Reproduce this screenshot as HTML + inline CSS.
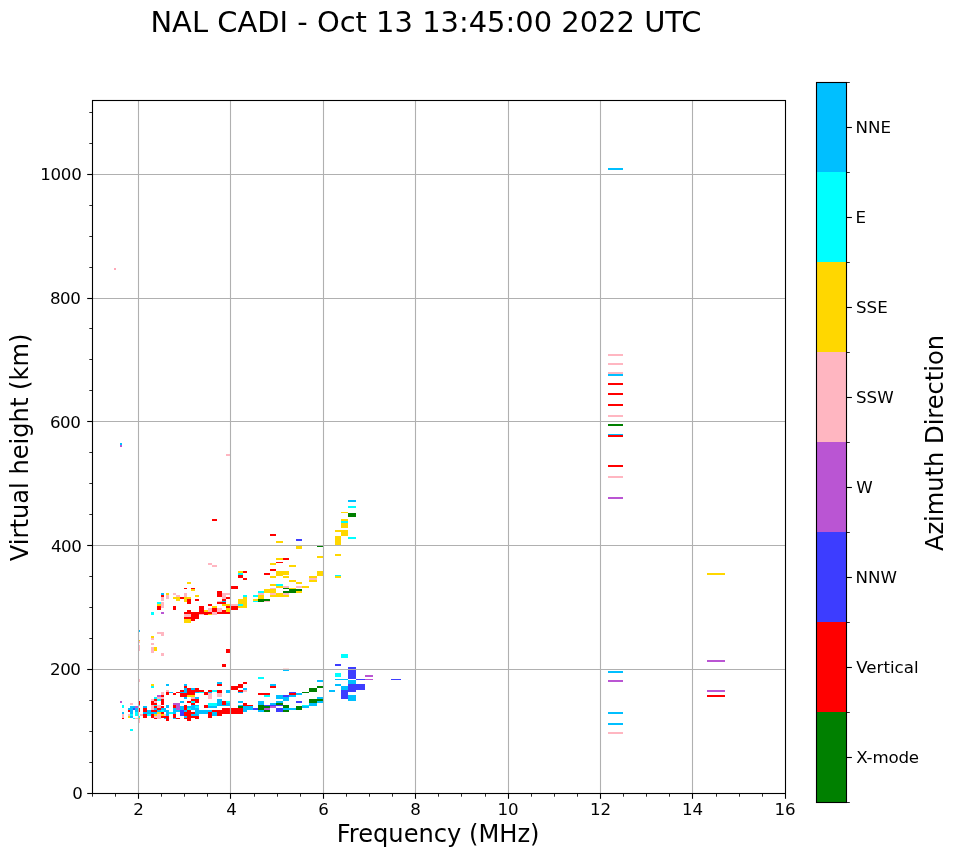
<!DOCTYPE html>
<html lang="en"><head><meta charset="utf-8"><title>NAL CADI ionogram</title>
<style>html,body{margin:0;padding:0;background:#fff}body{width:958px;height:857px;overflow:hidden}svg{display:block}text{font-family:"DejaVu Sans","Liberation Sans",sans-serif;fill:#000}.tk{font-size:16.67px}.lb{font-size:24.15px}.tt{font-size:28.95px}</style></head><body>
<svg width="958" height="857" viewBox="0 0 958 857">
<rect width="958" height="857" fill="#fff"/>
<g id="cells" shape-rendering="crispEdges">
<rect x="138" y="680" width="2" height="2" fill="#ffb6c1"/>
<rect x="151" y="684" width="3" height="2" fill="#ffd700"/>
<rect x="151" y="686" width="3" height="2" fill="#00ffff"/>
<rect x="166" y="684" width="3" height="2" fill="#00bfff"/>
<rect x="166" y="690" width="3" height="2" fill="#ffb6c1"/>
<rect x="166" y="692" width="3" height="3" fill="#ff0000"/>
<rect x="161" y="692" width="3" height="3" fill="#ffb6c1"/>
<rect x="169" y="692" width="4" height="1" fill="#00bfff"/>
<rect x="173" y="693" width="3" height="2" fill="#ff0000"/>
<rect x="176" y="692" width="2" height="1" fill="#ff0000"/>
<rect x="157" y="695" width="4" height="2" fill="#ba55d3"/>
<rect x="161" y="695" width="3" height="2" fill="#ff0000"/>
<rect x="154" y="697" width="3" height="2" fill="#00ffff"/>
<rect x="157" y="697" width="7" height="2" fill="#ffb6c1"/>
<rect x="151" y="699" width="3" height="2" fill="#ffb6c1"/>
<rect x="154" y="699" width="3" height="2" fill="#ff0000"/>
<rect x="157" y="699" width="4" height="2" fill="#00ffff"/>
<rect x="161" y="699" width="3" height="6" fill="#ff0000"/>
<rect x="120" y="701" width="2" height="2" fill="#ba55d3"/>
<rect x="138" y="701" width="2" height="4" fill="#ff0000"/>
<rect x="151" y="701" width="3" height="4" fill="#ff0000"/>
<rect x="154" y="701" width="3" height="2" fill="#ffb6c1"/>
<rect x="154" y="703" width="3" height="2" fill="#ff0000"/>
<rect x="130" y="703" width="3" height="2" fill="#ffb6c1"/>
<rect x="122" y="705" width="2" height="3" fill="#00ffff"/>
<rect x="138" y="705" width="2" height="1" fill="#00ffff"/>
<rect x="154" y="705" width="3" height="1" fill="#00ffff"/>
<rect x="157" y="705" width="4" height="3" fill="#ffb6c1"/>
<rect x="130" y="706" width="5" height="2" fill="#00bfff"/>
<rect x="135" y="706" width="3" height="2" fill="#ba55d3"/>
<rect x="143" y="706" width="4" height="2" fill="#00bfff"/>
<rect x="151" y="705" width="3" height="5" fill="#ffb6c1"/>
<rect x="154" y="706" width="3" height="2" fill="#ff0000"/>
<rect x="161" y="706" width="3" height="2" fill="#ff0000"/>
<rect x="166" y="705" width="3" height="3" fill="#00bfff"/>
<rect x="173" y="703" width="5" height="2" fill="#ba55d3"/>
<rect x="173" y="705" width="3" height="3" fill="#ff0000"/>
<rect x="176" y="705" width="2" height="5" fill="#ba55d3"/>
<rect x="128" y="708" width="5" height="2" fill="#00bfff"/>
<rect x="133" y="708" width="2" height="2" fill="#3d3dff"/>
<rect x="135" y="708" width="3" height="4" fill="#00bfff"/>
<rect x="138" y="708" width="2" height="4" fill="#ff0000"/>
<rect x="143" y="708" width="4" height="4" fill="#ff0000"/>
<rect x="154" y="708" width="3" height="2" fill="#00bfff"/>
<rect x="157" y="708" width="4" height="2" fill="#ff0000"/>
<rect x="161" y="708" width="5" height="2" fill="#00bfff"/>
<rect x="164" y="710" width="5" height="2" fill="#00bfff"/>
<rect x="173" y="708" width="3" height="2" fill="#00bfff"/>
<rect x="128" y="710" width="2" height="2" fill="#ff0000"/>
<rect x="130" y="710" width="3" height="2" fill="#00bfff"/>
<rect x="147" y="710" width="4" height="4" fill="#00bfff"/>
<rect x="151" y="710" width="6" height="2" fill="#ff0000"/>
<rect x="157" y="710" width="4" height="2" fill="#00bfff"/>
<rect x="161" y="710" width="3" height="2" fill="#00ffff"/>
<rect x="173" y="710" width="5" height="2" fill="#00bfff"/>
<rect x="122" y="712" width="2" height="2" fill="#00bfff"/>
<rect x="130" y="712" width="3" height="2" fill="#00bfff"/>
<rect x="135" y="712" width="3" height="4" fill="#00ffff"/>
<rect x="143" y="712" width="14" height="2" fill="#00bfff"/>
<rect x="157" y="712" width="4" height="2" fill="#ffd700"/>
<rect x="161" y="712" width="3" height="2" fill="#ff0000"/>
<rect x="166" y="712" width="3" height="4" fill="#00bfff"/>
<rect x="169" y="712" width="4" height="2" fill="#00ffff"/>
<rect x="173" y="712" width="3" height="2" fill="#00bfff"/>
<rect x="122" y="714" width="2" height="4" fill="#ffb6c1"/>
<rect x="128" y="714" width="2" height="2" fill="#ffb6c1"/>
<rect x="130" y="714" width="3" height="2" fill="#00ffff"/>
<rect x="140" y="714" width="3" height="2" fill="#ffb6c1"/>
<rect x="143" y="714" width="4" height="4" fill="#ff0000"/>
<rect x="147" y="714" width="4" height="2" fill="#00ffff"/>
<rect x="151" y="714" width="3" height="4" fill="#ff0000"/>
<rect x="154" y="714" width="3" height="2" fill="#ffd700"/>
<rect x="157" y="714" width="4" height="5" fill="#ffb6c1"/>
<rect x="161" y="714" width="3" height="2" fill="#ffd700"/>
<rect x="164" y="714" width="2" height="2" fill="#ffb6c1"/>
<rect x="173" y="714" width="3" height="4" fill="#ff0000"/>
<rect x="128" y="716" width="2" height="2" fill="#ffd700"/>
<rect x="130" y="716" width="3" height="2" fill="#00bfff"/>
<rect x="138" y="716" width="2" height="2" fill="#00ffff"/>
<rect x="154" y="716" width="3" height="2" fill="#ffb6c1"/>
<rect x="161" y="716" width="5" height="2" fill="#ff0000"/>
<rect x="166" y="716" width="3" height="5" fill="#ff0000"/>
<rect x="122" y="718" width="2" height="1" fill="#ff0000"/>
<rect x="133" y="718" width="2" height="1" fill="#00ffff"/>
<rect x="135" y="718" width="3" height="1" fill="#ffb6c1"/>
<rect x="138" y="718" width="2" height="1" fill="#ffd700"/>
<rect x="154" y="718" width="3" height="1" fill="#ff0000"/>
<rect x="164" y="718" width="2" height="1" fill="#00bfff"/>
<rect x="173" y="718" width="3" height="1" fill="#00bfff"/>
<rect x="176" y="718" width="2" height="1" fill="#ff0000"/>
<rect x="138" y="719" width="2" height="4" fill="#ffb6c1"/>
<rect x="348" y="500" width="8" height="2" fill="#00bfff"/>
<rect x="348" y="506" width="8" height="2" fill="#00ffff"/>
<rect x="341" y="512" width="7" height="1" fill="#ffd700"/>
<rect x="348" y="513" width="8" height="4" fill="#008000"/>
<rect x="341" y="519" width="7" height="2" fill="#ffd700"/>
<rect x="341" y="521" width="7" height="2" fill="#00ffff"/>
<rect x="341" y="523" width="7" height="5" fill="#ffd700"/>
<rect x="335" y="530" width="6" height="2" fill="#ffd700"/>
<rect x="341" y="530" width="7" height="6" fill="#ffd700"/>
<rect x="335" y="536" width="6" height="9" fill="#ffd700"/>
<rect x="348" y="537" width="8" height="2" fill="#00ffff"/>
<rect x="226" y="649" width="4" height="4" fill="#ff0000"/>
<rect x="222" y="664" width="4" height="3" fill="#ff0000"/>
<rect x="120" y="443" width="2" height="2" fill="#00bfff"/>
<rect x="120" y="445" width="2" height="2" fill="#ba55d3"/>
<rect x="226" y="454" width="4" height="2" fill="#ffb6c1"/>
<rect x="212" y="519" width="5" height="2" fill="#ff0000"/>
<rect x="114" y="268" width="2" height="2" fill="#ffa8b8"/>
<rect x="608" y="168" width="15" height="2" fill="#00bfff"/>
<rect x="608" y="354" width="15" height="2" fill="#ffb6c1"/>
<rect x="608" y="363" width="15" height="2" fill="#ffb6c1"/>
<rect x="608" y="372" width="15" height="2" fill="#ffb6c1"/>
<rect x="608" y="374" width="15" height="2" fill="#00bfff"/>
<rect x="608" y="383" width="15" height="2" fill="#ff0000"/>
<rect x="608" y="393" width="15" height="2" fill="#ff0000"/>
<rect x="608" y="404" width="15" height="2" fill="#ff0000"/>
<rect x="608" y="415" width="15" height="2" fill="#ffb6c1"/>
<rect x="608" y="424" width="15" height="2" fill="#008000"/>
<rect x="608" y="434" width="15" height="1" fill="#00bfff"/>
<rect x="608" y="435" width="15" height="2" fill="#ff0000"/>
<rect x="608" y="465" width="15" height="2" fill="#ff0000"/>
<rect x="608" y="476" width="15" height="2" fill="#ffb6c1"/>
<rect x="608" y="497" width="15" height="2" fill="#ba55d3"/>
<rect x="608" y="671" width="15" height="2" fill="#00bfff"/>
<rect x="608" y="680" width="15" height="2" fill="#ba55d3"/>
<rect x="608" y="712" width="15" height="2" fill="#00bfff"/>
<rect x="608" y="723" width="15" height="2" fill="#00bfff"/>
<rect x="608" y="732" width="15" height="2" fill="#ffb6c1"/>
<rect x="707" y="573" width="18" height="2" fill="#ffd700"/>
<rect x="707" y="660" width="18" height="2" fill="#ba55d3"/>
<rect x="707" y="690" width="18" height="2" fill="#ba55d3"/>
<rect x="707" y="695" width="18" height="2" fill="#ff0000"/>
<rect x="283" y="668" width="6" height="1" fill="#ffdcdc"/>
<rect x="283" y="669" width="6" height="2" fill="#00bfff"/>
<rect x="258" y="677" width="6" height="2" fill="#00ffff"/>
<rect x="217" y="682" width="5" height="2" fill="#00bfff"/>
<rect x="217" y="684" width="5" height="2" fill="#ff0000"/>
<rect x="184" y="684" width="3" height="2" fill="#00bfff"/>
<rect x="184" y="686" width="3" height="2" fill="#ff0000"/>
<rect x="231" y="686" width="5" height="4" fill="#ff0000"/>
<rect x="184" y="688" width="3" height="4" fill="#00bfff"/>
<rect x="187" y="688" width="4" height="2" fill="#ff0000"/>
<rect x="191" y="688" width="4" height="2" fill="#00bfff"/>
<rect x="195" y="688" width="4" height="2" fill="#ff0000"/>
<rect x="180" y="690" width="4" height="2" fill="#ff0000"/>
<rect x="187" y="690" width="17" height="2" fill="#ff0000"/>
<rect x="208" y="690" width="4" height="2" fill="#ff0000"/>
<rect x="212" y="690" width="5" height="2" fill="#00ffff"/>
<rect x="217" y="690" width="5" height="3" fill="#ff0000"/>
<rect x="226" y="690" width="4" height="3" fill="#00bfff"/>
<rect x="176" y="692" width="4" height="1" fill="#ff0000"/>
<rect x="180" y="692" width="7" height="1" fill="#00bfff"/>
<rect x="187" y="692" width="8" height="3" fill="#ff0000"/>
<rect x="195" y="692" width="4" height="1" fill="#00bfff"/>
<rect x="199" y="692" width="5" height="1" fill="#00ffff"/>
<rect x="204" y="692" width="4" height="3" fill="#ff0000"/>
<rect x="208" y="692" width="4" height="1" fill="#00bfff"/>
<rect x="180" y="693" width="7" height="4" fill="#ff0000"/>
<rect x="208" y="693" width="4" height="6" fill="#ffb6c1"/>
<rect x="217" y="693" width="5" height="4" fill="#ffb6c1"/>
<rect x="187" y="695" width="8" height="2" fill="#ffd700"/>
<rect x="184" y="697" width="3" height="2" fill="#00bfff"/>
<rect x="191" y="697" width="4" height="2" fill="#ffb6c1"/>
<rect x="195" y="697" width="4" height="2" fill="#00bfff"/>
<rect x="191" y="699" width="8" height="2" fill="#ff0000"/>
<rect x="217" y="699" width="5" height="7" fill="#00bfff"/>
<rect x="180" y="701" width="4" height="2" fill="#00bfff"/>
<rect x="187" y="701" width="4" height="2" fill="#ff0000"/>
<rect x="191" y="701" width="4" height="2" fill="#00ffff"/>
<rect x="195" y="701" width="4" height="2" fill="#ff0000"/>
<rect x="222" y="701" width="4" height="4" fill="#ff0000"/>
<rect x="226" y="701" width="4" height="2" fill="#00ffff"/>
<rect x="176" y="703" width="4" height="7" fill="#ba55d3"/>
<rect x="191" y="703" width="4" height="2" fill="#ff0000"/>
<rect x="208" y="703" width="9" height="3" fill="#00ffff"/>
<rect x="226" y="703" width="4" height="3" fill="#00bfff"/>
<rect x="222" y="705" width="4" height="1" fill="#00bfff"/>
<rect x="184" y="705" width="3" height="5" fill="#ff0000"/>
<rect x="191" y="705" width="4" height="5" fill="#00bfff"/>
<rect x="195" y="705" width="4" height="1" fill="#00bfff"/>
<rect x="195" y="706" width="4" height="2" fill="#00ffff"/>
<rect x="204" y="705" width="4" height="3" fill="#ff0000"/>
<rect x="208" y="706" width="9" height="2" fill="#00bfff"/>
<rect x="180" y="706" width="4" height="4" fill="#00bfff"/>
<rect x="187" y="706" width="4" height="2" fill="#00bfff"/>
<rect x="187" y="708" width="4" height="2" fill="#00ffff"/>
<rect x="195" y="708" width="4" height="2" fill="#00bfff"/>
<rect x="222" y="708" width="14" height="6" fill="#ff0000"/>
<rect x="176" y="710" width="4" height="2" fill="#00bfff"/>
<rect x="180" y="710" width="4" height="6" fill="#3d3dff"/>
<rect x="184" y="710" width="3" height="2" fill="#00bfff"/>
<rect x="187" y="710" width="4" height="2" fill="#ff0000"/>
<rect x="195" y="710" width="17" height="2" fill="#00bfff"/>
<rect x="212" y="710" width="10" height="2" fill="#ff0000"/>
<rect x="184" y="712" width="11" height="2" fill="#ff0000"/>
<rect x="195" y="712" width="13" height="2" fill="#00bfff"/>
<rect x="208" y="712" width="4" height="6" fill="#ff0000"/>
<rect x="212" y="712" width="5" height="4" fill="#00bfff"/>
<rect x="217" y="712" width="5" height="4" fill="#ff0000"/>
<rect x="184" y="714" width="7" height="2" fill="#ff0000"/>
<rect x="191" y="714" width="8" height="2" fill="#00bfff"/>
<rect x="184" y="716" width="3" height="2" fill="#00bfff"/>
<rect x="187" y="716" width="12" height="2" fill="#ff0000"/>
<rect x="176" y="718" width="4" height="1" fill="#ff0000"/>
<rect x="184" y="718" width="7" height="1" fill="#ff0000"/>
<rect x="195" y="718" width="4" height="1" fill="#ff0000"/>
<rect x="187" y="719" width="4" height="2" fill="#ff0000"/>
<rect x="243" y="682" width="4" height="2" fill="#ff0000"/>
<rect x="238" y="684" width="5" height="2" fill="#ff0000"/>
<rect x="234" y="686" width="9" height="2" fill="#ff0000"/>
<rect x="234" y="688" width="4" height="2" fill="#ff0000"/>
<rect x="243" y="688" width="4" height="2" fill="#00bfff"/>
<rect x="238" y="690" width="5" height="2" fill="#ff0000"/>
<rect x="243" y="690" width="4" height="2" fill="#ffb6c1"/>
<rect x="238" y="692" width="5" height="1" fill="#00bfff"/>
<rect x="270" y="684" width="6" height="2" fill="#00bfff"/>
<rect x="270" y="686" width="6" height="2" fill="#ff0000"/>
<rect x="258" y="693" width="12" height="2" fill="#ff0000"/>
<rect x="264" y="695" width="6" height="2" fill="#00ffff"/>
<rect x="289" y="692" width="5" height="1" fill="#3d3dff"/>
<rect x="289" y="693" width="5" height="2" fill="#ff0000"/>
<rect x="289" y="695" width="5" height="2" fill="#00bfff"/>
<rect x="276" y="695" width="7" height="4" fill="#00bfff"/>
<rect x="283" y="695" width="6" height="2" fill="#3d3dff"/>
<rect x="283" y="697" width="6" height="4" fill="#00bfff"/>
<rect x="238" y="701" width="5" height="2" fill="#00bfff"/>
<rect x="258" y="701" width="6" height="4" fill="#00bfff"/>
<rect x="276" y="701" width="7" height="2" fill="#00bfff"/>
<rect x="276" y="703" width="7" height="2" fill="#008000"/>
<rect x="243" y="703" width="4" height="3" fill="#ff0000"/>
<rect x="247" y="705" width="6" height="1" fill="#ff0000"/>
<rect x="270" y="703" width="6" height="2" fill="#00bfff"/>
<rect x="238" y="705" width="5" height="1" fill="#00bfff"/>
<rect x="238" y="706" width="5" height="2" fill="#008000"/>
<rect x="264" y="705" width="19" height="1" fill="#3d3dff"/>
<rect x="258" y="705" width="6" height="5" fill="#008000"/>
<rect x="264" y="706" width="6" height="2" fill="#008000"/>
<rect x="270" y="706" width="6" height="2" fill="#ba55d3"/>
<rect x="283" y="705" width="6" height="3" fill="#008000"/>
<rect x="243" y="706" width="10" height="4" fill="#00bfff"/>
<rect x="243" y="710" width="4" height="2" fill="#00bfff"/>
<rect x="234" y="708" width="9" height="6" fill="#ff0000"/>
<rect x="253" y="708" width="5" height="2" fill="#3d3dff"/>
<rect x="264" y="708" width="6" height="2" fill="#ba55d3"/>
<rect x="276" y="708" width="7" height="4" fill="#3d3dff"/>
<rect x="283" y="708" width="11" height="2" fill="#00bfff"/>
<rect x="258" y="710" width="6" height="2" fill="#00bfff"/>
<rect x="264" y="710" width="6" height="2" fill="#008000"/>
<rect x="283" y="710" width="6" height="2" fill="#008000"/>
<rect x="294" y="692" width="2" height="1" fill="#3d3dff"/>
<rect x="294" y="693" width="2" height="2" fill="#ff0000"/>
<rect x="294" y="695" width="2" height="2" fill="#00bfff"/>
<rect x="296" y="693" width="6" height="2" fill="#00bfff"/>
<rect x="302" y="692" width="7" height="1" fill="#008000"/>
<rect x="309" y="688" width="8" height="4" fill="#008000"/>
<rect x="317" y="686" width="6" height="2" fill="#008000"/>
<rect x="317" y="680" width="6" height="2" fill="#00bfff"/>
<rect x="317" y="697" width="6" height="2" fill="#00bfff"/>
<rect x="309" y="699" width="14" height="2" fill="#008000"/>
<rect x="309" y="701" width="8" height="2" fill="#008000"/>
<rect x="317" y="701" width="6" height="2" fill="#00bfff"/>
<rect x="296" y="701" width="6" height="2" fill="#3d3dff"/>
<rect x="309" y="703" width="8" height="3" fill="#00bfff"/>
<rect x="302" y="705" width="7" height="1" fill="#00ffff"/>
<rect x="302" y="706" width="7" height="2" fill="#00bfff"/>
<rect x="296" y="706" width="6" height="4" fill="#008000"/>
<rect x="292" y="708" width="4" height="2" fill="#00bfff"/>
<rect x="335" y="673" width="6" height="4" fill="#00ffff"/>
<rect x="335" y="679" width="13" height="1" fill="#00bfff"/>
<rect x="335" y="684" width="6" height="2" fill="#00bfff"/>
<rect x="341" y="686" width="7" height="4" fill="#00bfff"/>
<rect x="329" y="690" width="6" height="2" fill="#00bfff"/>
<rect x="341" y="690" width="7" height="9" fill="#3d3dff"/>
<rect x="341" y="654" width="7" height="4" fill="#00ffff"/>
<rect x="335" y="664" width="6" height="2" fill="#3d3dff"/>
<rect x="348" y="667" width="8" height="12" fill="#3d3dff"/>
<rect x="356" y="679" width="9" height="1" fill="#3d3dff"/>
<rect x="365" y="679" width="8" height="1" fill="#ba55d3"/>
<rect x="365" y="675" width="8" height="2" fill="#ba55d3"/>
<rect x="391" y="679" width="10" height="1" fill="#3d3dff"/>
<rect x="348" y="680" width="8" height="4" fill="#00bfff"/>
<rect x="348" y="684" width="17" height="6" fill="#3d3dff"/>
<rect x="348" y="690" width="8" height="2" fill="#3d3dff"/>
<rect x="330" y="690" width="5" height="2" fill="#00bfff"/>
<rect x="341" y="690" width="7" height="9" fill="#3d3dff"/>
<rect x="348" y="695" width="8" height="6" fill="#00bfff"/>
<rect x="130" y="729" width="3" height="2" fill="#00ffff"/>
<rect x="138" y="630" width="2" height="2" fill="#00bfff"/>
<rect x="138" y="640" width="2" height="1" fill="#ffd700"/>
<rect x="138" y="641" width="2" height="2" fill="#ffb6c1"/>
<rect x="138" y="645" width="2" height="6" fill="#ffb6c1"/>
<rect x="138" y="679" width="2" height="3" fill="#ffb6c1"/>
<rect x="157" y="632" width="7" height="2" fill="#ffb6c1"/>
<rect x="161" y="634" width="3" height="2" fill="#ffb6c1"/>
<rect x="151" y="636" width="3" height="2" fill="#ffd700"/>
<rect x="151" y="638" width="3" height="2" fill="#ffb6c1"/>
<rect x="151" y="643" width="3" height="2" fill="#ffb6c1"/>
<rect x="151" y="647" width="3" height="6" fill="#ffb6c1"/>
<rect x="154" y="647" width="3" height="4" fill="#ffd700"/>
<rect x="161" y="653" width="3" height="3" fill="#ffb6c1"/>
<rect x="208" y="563" width="4" height="2" fill="#ffb6c1"/>
<rect x="187" y="582" width="4" height="2" fill="#ffd700"/>
<rect x="184" y="588" width="3" height="1" fill="#ff0000"/>
<rect x="191" y="588" width="4" height="1" fill="#ff0000"/>
<rect x="191" y="589" width="4" height="2" fill="#ffd700"/>
<rect x="161" y="593" width="3" height="2" fill="#00bfff"/>
<rect x="161" y="595" width="3" height="2" fill="#ff0000"/>
<rect x="161" y="597" width="3" height="4" fill="#ffb6c1"/>
<rect x="166" y="593" width="3" height="2" fill="#ffd700"/>
<rect x="166" y="595" width="3" height="4" fill="#ffb6c1"/>
<rect x="173" y="593" width="3" height="2" fill="#ffb6c1"/>
<rect x="176" y="595" width="4" height="2" fill="#ffb6c1"/>
<rect x="173" y="597" width="7" height="2" fill="#ffd700"/>
<rect x="176" y="599" width="4" height="2" fill="#ffd700"/>
<rect x="180" y="597" width="4" height="2" fill="#ff0000"/>
<rect x="184" y="593" width="3" height="4" fill="#ffb6c1"/>
<rect x="184" y="597" width="7" height="2" fill="#ffd700"/>
<rect x="184" y="599" width="3" height="3" fill="#ffd700"/>
<rect x="187" y="599" width="4" height="5" fill="#ff0000"/>
<rect x="195" y="595" width="4" height="2" fill="#ffd700"/>
<rect x="195" y="599" width="4" height="2" fill="#ff0000"/>
<rect x="157" y="602" width="4" height="2" fill="#00ffff"/>
<rect x="157" y="604" width="4" height="2" fill="#ffd700"/>
<rect x="157" y="606" width="4" height="4" fill="#ff0000"/>
<rect x="161" y="602" width="3" height="6" fill="#ffb6c1"/>
<rect x="173" y="606" width="3" height="4" fill="#ff0000"/>
<rect x="151" y="612" width="3" height="3" fill="#00ffff"/>
<rect x="161" y="612" width="3" height="2" fill="#ba55d3"/>
<rect x="199" y="606" width="5" height="6" fill="#ff0000"/>
<rect x="187" y="610" width="4" height="2" fill="#ff0000"/>
<rect x="184" y="614" width="7" height="3" fill="#ffb6c1"/>
<rect x="191" y="614" width="8" height="5" fill="#ff0000"/>
<rect x="184" y="617" width="7" height="2" fill="#ff0000"/>
<rect x="184" y="619" width="7" height="4" fill="#ffd700"/>
<rect x="191" y="619" width="4" height="2" fill="#ff0000"/>
<rect x="184" y="612" width="28" height="2" fill="#ff0000"/>
<rect x="212" y="565" width="5" height="2" fill="#ffb6c1"/>
<rect x="238" y="571" width="5" height="2" fill="#ffd700"/>
<rect x="243" y="571" width="4" height="2" fill="#ff0000"/>
<rect x="238" y="573" width="5" height="2" fill="#00ffff"/>
<rect x="238" y="575" width="5" height="3" fill="#ff0000"/>
<rect x="243" y="578" width="4" height="2" fill="#ff0000"/>
<rect x="231" y="586" width="7" height="3" fill="#ff0000"/>
<rect x="270" y="563" width="6" height="2" fill="#ffd700"/>
<rect x="270" y="569" width="6" height="2" fill="#ff0000"/>
<rect x="264" y="573" width="6" height="2" fill="#ff0000"/>
<rect x="270" y="576" width="6" height="2" fill="#ffd700"/>
<rect x="270" y="584" width="6" height="2" fill="#ffd700"/>
<rect x="270" y="588" width="6" height="1" fill="#ffb6c1"/>
<rect x="264" y="589" width="12" height="4" fill="#ffd700"/>
<rect x="270" y="593" width="6" height="2" fill="#ffb6c1"/>
<rect x="270" y="595" width="6" height="2" fill="#ffd700"/>
<rect x="258" y="591" width="6" height="2" fill="#00ffff"/>
<rect x="258" y="593" width="6" height="2" fill="#ffb6c1"/>
<rect x="258" y="595" width="6" height="4" fill="#ffd700"/>
<rect x="258" y="599" width="6" height="3" fill="#008000"/>
<rect x="264" y="599" width="6" height="2" fill="#008000"/>
<rect x="264" y="601" width="6" height="1" fill="#ffb6c1"/>
<rect x="253" y="595" width="5" height="2" fill="#00ffff"/>
<rect x="253" y="599" width="5" height="2" fill="#ffd700"/>
<rect x="253" y="601" width="5" height="1" fill="#00ffff"/>
<rect x="243" y="595" width="4" height="2" fill="#00ffff"/>
<rect x="243" y="597" width="4" height="11" fill="#ffd700"/>
<rect x="238" y="599" width="5" height="5" fill="#ffd700"/>
<rect x="238" y="604" width="5" height="2" fill="#00ffff"/>
<rect x="238" y="606" width="5" height="2" fill="#ffd700"/>
<rect x="231" y="604" width="7" height="2" fill="#ffb6c1"/>
<rect x="231" y="606" width="7" height="4" fill="#ff0000"/>
<rect x="217" y="591" width="5" height="6" fill="#ff0000"/>
<rect x="222" y="593" width="8" height="2" fill="#ffb6c1"/>
<rect x="222" y="595" width="4" height="4" fill="#ffb6c1"/>
<rect x="226" y="597" width="4" height="2" fill="#ff0000"/>
<rect x="222" y="599" width="4" height="2" fill="#ff0000"/>
<rect x="222" y="601" width="4" height="1" fill="#00bfff"/>
<rect x="217" y="601" width="5" height="1" fill="#ffb6c1"/>
<rect x="217" y="602" width="9" height="2" fill="#ff0000"/>
<rect x="208" y="604" width="4" height="2" fill="#ff0000"/>
<rect x="222" y="604" width="8" height="2" fill="#ffd700"/>
<rect x="226" y="606" width="4" height="2" fill="#ff0000"/>
<rect x="226" y="608" width="4" height="4" fill="#ffd700"/>
<rect x="212" y="606" width="5" height="2" fill="#ffd700"/>
<rect x="212" y="608" width="5" height="4" fill="#ff0000"/>
<rect x="204" y="610" width="4" height="2" fill="#ffd700"/>
<rect x="208" y="608" width="4" height="4" fill="#ffb6c1"/>
<rect x="217" y="608" width="5" height="4" fill="#ffb6c1"/>
<rect x="222" y="610" width="4" height="2" fill="#ff0000"/>
<rect x="212" y="612" width="5" height="3" fill="#ffb6c1"/>
<rect x="217" y="612" width="13" height="2" fill="#ff0000"/>
<rect x="199" y="614" width="5" height="1" fill="#ffb6c1"/>
<rect x="204" y="614" width="4" height="1" fill="#ff0000"/>
<rect x="208" y="614" width="4" height="1" fill="#ffd700"/>
<rect x="270" y="534" width="6" height="2" fill="#ff0000"/>
<rect x="276" y="541" width="7" height="2" fill="#ffd700"/>
<rect x="296" y="539" width="6" height="2" fill="#3d3dff"/>
<rect x="296" y="545" width="6" height="4" fill="#ffd700"/>
<rect x="317" y="545" width="6" height="2" fill="#008000"/>
<rect x="317" y="556" width="6" height="2" fill="#ffd700"/>
<rect x="335" y="554" width="6" height="2" fill="#ffd700"/>
<rect x="276" y="558" width="7" height="2" fill="#ffd700"/>
<rect x="283" y="558" width="6" height="2" fill="#ff0000"/>
<rect x="276" y="562" width="7" height="1" fill="#ff0000"/>
<rect x="270" y="563" width="6" height="2" fill="#ffd700"/>
<rect x="289" y="565" width="7" height="2" fill="#ffd700"/>
<rect x="270" y="569" width="6" height="2" fill="#ff0000"/>
<rect x="276" y="571" width="13" height="4" fill="#ffd700"/>
<rect x="276" y="575" width="7" height="1" fill="#ffd700"/>
<rect x="283" y="576" width="6" height="2" fill="#ffd700"/>
<rect x="317" y="571" width="6" height="5" fill="#ffd700"/>
<rect x="309" y="576" width="8" height="2" fill="#ffd700"/>
<rect x="309" y="578" width="8" height="2" fill="#ffb6c1"/>
<rect x="309" y="580" width="8" height="2" fill="#ffd700"/>
<rect x="335" y="575" width="6" height="1" fill="#00ffff"/>
<rect x="335" y="576" width="6" height="2" fill="#ffd700"/>
<rect x="289" y="580" width="7" height="2" fill="#ffd700"/>
<rect x="296" y="582" width="6" height="2" fill="#ffd700"/>
<rect x="276" y="584" width="7" height="2" fill="#00ffff"/>
<rect x="276" y="586" width="7" height="2" fill="#ffd700"/>
<rect x="283" y="586" width="6" height="2" fill="#ffb6c1"/>
<rect x="296" y="586" width="6" height="2" fill="#ffb6c1"/>
<rect x="302" y="586" width="7" height="2" fill="#ffd700"/>
<rect x="283" y="588" width="6" height="1" fill="#008000"/>
<rect x="289" y="588" width="7" height="1" fill="#ffd700"/>
<rect x="289" y="589" width="13" height="2" fill="#008000"/>
<rect x="283" y="591" width="13" height="2" fill="#008000"/>
<rect x="296" y="591" width="6" height="2" fill="#ffd700"/>
<rect x="276" y="593" width="7" height="4" fill="#ffd700"/>
<rect x="283" y="593" width="6" height="2" fill="#ffb6c1"/>
<rect x="283" y="595" width="6" height="2" fill="#ffd700"/>
</g>
<g stroke="#b0b0b0" stroke-width="1.11" fill="none">
<line x1="138.50" y1="100.5" x2="138.50" y2="793.5"/>
<line x1="230.50" y1="100.5" x2="230.50" y2="793.5"/>
<line x1="323.50" y1="100.5" x2="323.50" y2="793.5"/>
<line x1="415.50" y1="100.5" x2="415.50" y2="793.5"/>
<line x1="508.50" y1="100.5" x2="508.50" y2="793.5"/>
<line x1="600.50" y1="100.5" x2="600.50" y2="793.5"/>
<line x1="692.50" y1="100.5" x2="692.50" y2="793.5"/>
<line x1="92.5" y1="669.50" x2="785.5" y2="669.50"/>
<line x1="92.5" y1="545.50" x2="785.5" y2="545.50"/>
<line x1="92.5" y1="421.50" x2="785.5" y2="421.50"/>
<line x1="92.5" y1="298.50" x2="785.5" y2="298.50"/>
<line x1="92.5" y1="174.50" x2="785.5" y2="174.50"/>
</g>
<g stroke="#000" stroke-width="1.11" fill="none">
<line x1="138.50" y1="793.5" x2="138.50" y2="798.80"/>
<line x1="230.50" y1="793.5" x2="230.50" y2="798.80"/>
<line x1="323.50" y1="793.5" x2="323.50" y2="798.80"/>
<line x1="415.50" y1="793.5" x2="415.50" y2="798.80"/>
<line x1="508.50" y1="793.5" x2="508.50" y2="798.80"/>
<line x1="600.50" y1="793.5" x2="600.50" y2="798.80"/>
<line x1="692.50" y1="793.5" x2="692.50" y2="798.80"/>
<line x1="785.50" y1="793.5" x2="785.50" y2="798.80"/>
<line x1="92.5" y1="793.50" x2="87.20" y2="793.50"/>
<line x1="92.5" y1="669.50" x2="87.20" y2="669.50"/>
<line x1="92.5" y1="545.50" x2="87.20" y2="545.50"/>
<line x1="92.5" y1="421.50" x2="87.20" y2="421.50"/>
<line x1="92.5" y1="298.50" x2="87.20" y2="298.50"/>
<line x1="92.5" y1="174.50" x2="87.20" y2="174.50"/>
</g><g stroke="#000" stroke-width="0.83" fill="none">
<line x1="92.50" y1="793.5" x2="92.50" y2="796.70"/>
<line x1="115.50" y1="793.5" x2="115.50" y2="796.70"/>
<line x1="161.50" y1="793.5" x2="161.50" y2="796.70"/>
<line x1="184.50" y1="793.5" x2="184.50" y2="796.70"/>
<line x1="207.50" y1="793.5" x2="207.50" y2="796.70"/>
<line x1="254.50" y1="793.5" x2="254.50" y2="796.70"/>
<line x1="277.50" y1="793.5" x2="277.50" y2="796.70"/>
<line x1="300.50" y1="793.5" x2="300.50" y2="796.70"/>
<line x1="346.50" y1="793.5" x2="346.50" y2="796.70"/>
<line x1="369.50" y1="793.5" x2="369.50" y2="796.70"/>
<line x1="392.50" y1="793.5" x2="392.50" y2="796.70"/>
<line x1="438.50" y1="793.5" x2="438.50" y2="796.70"/>
<line x1="461.50" y1="793.5" x2="461.50" y2="796.70"/>
<line x1="485.50" y1="793.5" x2="485.50" y2="796.70"/>
<line x1="531.50" y1="793.5" x2="531.50" y2="796.70"/>
<line x1="554.50" y1="793.5" x2="554.50" y2="796.70"/>
<line x1="577.50" y1="793.5" x2="577.50" y2="796.70"/>
<line x1="623.50" y1="793.5" x2="623.50" y2="796.70"/>
<line x1="646.50" y1="793.5" x2="646.50" y2="796.70"/>
<line x1="669.50" y1="793.5" x2="669.50" y2="796.70"/>
<line x1="716.50" y1="793.5" x2="716.50" y2="796.70"/>
<line x1="739.50" y1="793.5" x2="739.50" y2="796.70"/>
<line x1="762.50" y1="793.5" x2="762.50" y2="796.70"/>
<line x1="92.5" y1="762.50" x2="89.30" y2="762.50"/>
<line x1="92.5" y1="731.50" x2="89.30" y2="731.50"/>
<line x1="92.5" y1="700.50" x2="89.30" y2="700.50"/>
<line x1="92.5" y1="638.50" x2="89.30" y2="638.50"/>
<line x1="92.5" y1="607.50" x2="89.30" y2="607.50"/>
<line x1="92.5" y1="576.50" x2="89.30" y2="576.50"/>
<line x1="92.5" y1="514.50" x2="89.30" y2="514.50"/>
<line x1="92.5" y1="483.50" x2="89.30" y2="483.50"/>
<line x1="92.5" y1="452.50" x2="89.30" y2="452.50"/>
<line x1="92.5" y1="390.50" x2="89.30" y2="390.50"/>
<line x1="92.5" y1="359.50" x2="89.30" y2="359.50"/>
<line x1="92.5" y1="328.50" x2="89.30" y2="328.50"/>
<line x1="92.5" y1="267.50" x2="89.30" y2="267.50"/>
<line x1="92.5" y1="236.50" x2="89.30" y2="236.50"/>
<line x1="92.5" y1="205.50" x2="89.30" y2="205.50"/>
<line x1="92.5" y1="143.50" x2="89.30" y2="143.50"/>
<line x1="92.5" y1="112.50" x2="89.30" y2="112.50"/>
</g>
<rect x="92.5" y="100.5" width="693.0" height="693.0" fill="none" stroke="#000" stroke-width="1.11"/>
<g class="tk">
<text x="138.5" y="814.7" text-anchor="middle">2</text>
<text x="231.6" y="814.7" text-anchor="middle">4</text>
<text x="323.5" y="814.7" text-anchor="middle">6</text>
<text x="415.5" y="814.7" text-anchor="middle">8</text>
<text x="508.0" y="814.7" text-anchor="middle">10</text>
<text x="600.5" y="814.7" text-anchor="middle">12</text>
<text x="692.6" y="814.7" text-anchor="middle">14</text>
<text x="785.0" y="814.7" text-anchor="middle">16</text>
<text x="82.90" y="798.70" text-anchor="end">0</text>
<text x="80.90" y="674.70" text-anchor="end" textLength="30.8" lengthAdjust="spacing">200</text>
<text x="81.80" y="551.70" text-anchor="end" textLength="30.8" lengthAdjust="spacing">400</text>
<text x="80.80" y="427.70" text-anchor="end" textLength="30.8" lengthAdjust="spacing">600</text>
<text x="80.80" y="303.70" text-anchor="end" textLength="30.8" lengthAdjust="spacing">800</text>
<text x="81.80" y="179.70" text-anchor="end" textLength="41.6" lengthAdjust="spacing">1000</text>
</g>
<text class="lb" x="438.1" y="842" text-anchor="middle">Frequency (MHz)</text>
<text class="lb" transform="translate(28.2,447.4) rotate(-90)" text-anchor="middle">Virtual height (km)</text>
<text class="tt" x="426" y="32" text-anchor="middle">NAL CADI - Oct 13 13:45:00 2022 UTC</text>
<g shape-rendering="crispEdges">
<rect x="816.5" y="82" width="30.0" height="90" fill="#00bfff"/>
<rect x="816.5" y="172" width="30.0" height="90" fill="#00ffff"/>
<rect x="816.5" y="262" width="30.0" height="90" fill="#ffd700"/>
<rect x="816.5" y="352" width="30.0" height="90" fill="#ffb6c1"/>
<rect x="816.5" y="442" width="30.0" height="90" fill="#ba55d3"/>
<rect x="816.5" y="532" width="30.0" height="90" fill="#3d3dff"/>
<rect x="816.5" y="622" width="30.0" height="90" fill="#ff0000"/>
<rect x="816.5" y="712" width="30.0" height="90.5" fill="#008000"/>
</g>
<g stroke="#000" stroke-width="1.11" fill="none">
<line x1="846.5" y1="127.5" x2="851.9" y2="127.5"/>
<line x1="846.5" y1="217.5" x2="851.9" y2="217.5"/>
<line x1="846.5" y1="307.5" x2="851.9" y2="307.5"/>
<line x1="846.5" y1="397.5" x2="851.9" y2="397.5"/>
<line x1="846.5" y1="487.5" x2="851.9" y2="487.5"/>
<line x1="846.5" y1="577.5" x2="851.9" y2="577.5"/>
<line x1="846.5" y1="667.5" x2="851.9" y2="667.5"/>
<line x1="846.5" y1="757.5" x2="851.9" y2="757.5"/>
</g><g stroke="#000" stroke-width="0.83" fill="none">
<line x1="846.5" y1="82.5" x2="849.8" y2="82.5"/>
<line x1="846.5" y1="172.5" x2="849.8" y2="172.5"/>
<line x1="846.5" y1="262.5" x2="849.8" y2="262.5"/>
<line x1="846.5" y1="352.5" x2="849.8" y2="352.5"/>
<line x1="846.5" y1="442.5" x2="849.8" y2="442.5"/>
<line x1="846.5" y1="532.5" x2="849.8" y2="532.5"/>
<line x1="846.5" y1="622.5" x2="849.8" y2="622.5"/>
<line x1="846.5" y1="712.5" x2="849.8" y2="712.5"/>
<line x1="846.5" y1="802.5" x2="849.8" y2="802.5"/>
</g>
<rect x="816.5" y="82.5" width="30.0" height="720.0" fill="none" stroke="#000" stroke-width="1.11"/>
<g class="tk">
<text x="855.6" y="132.90">NNE</text>
<text x="855.6" y="222.90">E</text>
<text x="856.0" y="312.90">SSE</text>
<text x="856.0" y="402.90">SSW</text>
<text x="856.25" y="492.90">W</text>
<text x="855.6" y="582.90">NNW</text>
<text x="856.2" y="672.90">Vertical</text>
<text x="856.2" y="762.90" textLength="62.9" lengthAdjust="spacing">X-mode</text>
</g>
<text class="lb" transform="translate(943.2,443) rotate(-90)" text-anchor="middle">Azimuth Direction</text>
</svg></body></html>
